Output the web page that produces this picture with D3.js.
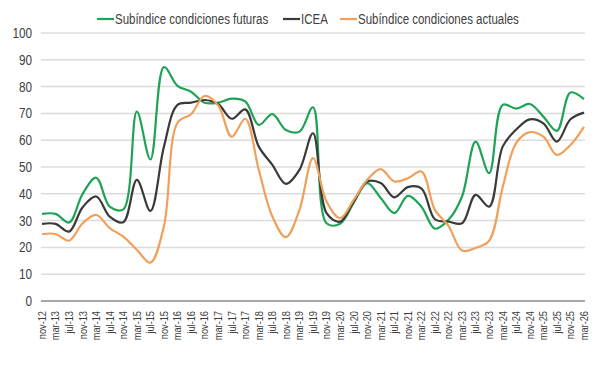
<!DOCTYPE html>
<html>
<head>
<meta charset="utf-8">
<script src="https://cdn.jsdelivr.net/npm/d3@7"></script>
<style>
	body { margin: 0; background: #fff; }
	text { font-family: "Liberation Sans", Arial, sans-serif; fill: #404040; }
</style>
</head>
<body>
<div id="chart"></div>
<script>
// categories (every 4 months)
var periods = [
	"nov-12", "mar-13", "jul-13", "nov-13", "mar-14", "jul-14", "nov-14",
	"mar-15", "jul-15", "nov-15", "mar-16", "jul-16", "nov-16",
	"mar-17", "jul-17", "nov-17", "mar-18", "jul-18", "nov-18",
	"mar-19", "jul-19", "nov-19", "mar-20", "jul-20", "nov-20",
	"mar-21", "jul-21", "nov-21", "mar-22", "jul-22", "nov-22",
	"mar-23", "jul-23", "nov-23", "mar-24", "jul-24", "nov-24",
	"mar-25", "jul-25", "nov-25", "mar-26"
];

var futuras = [
	32.5, 32.5, 29.3, 40, 46, 35.2, 34.2,
	70.7, 52.8, 87.3, 80.3, 78.1, 74,
	74, 75.5, 74.5, 65.7, 69.7, 63.8,
	63.2, 72.3, 29, 28.8, 36.6, 44,
	38.4, 32.8, 39.2, 35.2, 27, 30.3,
	39, 59.5, 47.7, 73.2, 71.8, 73.5,
	68.8, 63.5, 77.8, 75.3
];

var icea = [
	28.8, 28.8, 25.9, 35, 39, 31.5, 29.4,
	45.2, 33.6, 57.6, 73.2, 74, 75,
	73.5, 68, 71.5, 57.6, 50.8, 43.7,
	48.9, 62.6, 32.8, 29.6, 37.1, 44.6,
	44, 38.7, 42.5, 42, 30.5, 29.6,
	29, 39.6, 35.2, 57.6, 64, 67.8,
	66.3, 59.5, 67.8, 70.3
];

var actuales = [
	25, 25, 22.5, 29, 32.1, 27.2, 24,
	19.1, 14.3, 28, 66.5, 69.7, 76.5,
	73, 61.3, 68, 48.9, 31.5, 23.8,
	34, 53.3, 37.1, 30.9, 37.7, 45.2,
	49.2, 44.6, 45.8, 48.3, 34, 28,
	18.8, 19.8, 22.5, 42.5, 59, 63,
	61.3, 54.5, 58.2, 65
];

var yTicks = [0, 10, 20, 30, 40, 50, 60, 70, 80, 90, 100];

var series = [
	{name: "Subíndice condiciones futuras", values: futuras, color: "#1fa356"},
	{name: "ICEA", values: icea, color: "#3a3a3a"},
	{name: "Subíndice condiciones actuales", values: actuales, color: "#f0a05a"}
];

var width = 600, height = 373;

var svg = d3.select("#chart")
	.append("svg")
	.attr("width", width)
	.attr("height", height);

svg.append("rect")
	.attr("width", width)
	.attr("height", height)
	.attr("fill", "#fff");

var x = d3.scalePoint()
	.domain(periods)
	.range([42, 584]);

var y = d3.scaleLinear()
	.domain([0, 100])
	.range([301, 33]);

// squeeze text to look like a narrow font
function narrow(sel, k) {
	sel.each(function() {
		var w = this.getComputedTextLength();
		d3.select(this)
			.attr("textLength", w * k)
			.attr("lengthAdjust", "spacingAndGlyphs");
	});
}

// gridlines
svg.append("g")
	.selectAll("line")
	.data(yTicks.filter(function(d) { return d > 0; }))
	.join("line")
	.attr("x1", 41)
	.attr("x2", 585)
	.attr("y1", function(d) { return y(d); })
	.attr("y2", function(d) { return y(d); })
	.attr("stroke", "#dcdcdc")
	.attr("stroke-width", 1.5);

// y labels
svg.append("g")
	.selectAll("text")
	.data(yTicks)
	.join("text")
	.attr("x", 32)
	.attr("y", function(d) { return y(d); })
	.attr("dy", "0.36em")
	.attr("text-anchor", "end")
	.attr("font-size", 14)
	.text(function(d) { return d; })
	.call(narrow, 0.84);

// x axis baseline
svg.append("line")
	.attr("x1", 41)
	.attr("x2", 585)
	.attr("y1", y(0))
	.attr("y2", y(0))
	.attr("stroke", "#8a8a8a")
	.attr("stroke-width", 1.5);

// x labels, rotated
svg.append("g")
	.selectAll("text")
	.data(periods)
	.join("text")
	.attr("transform", function(d) { return "translate(" + x(d) + ",311) rotate(-90)"; })
	.attr("dy", "0.35em")
	.attr("text-anchor", "end")
	.attr("font-size", 11)
	.text(function(d) { return d; })
	.call(narrow, 0.84);

// lines
var line = d3.line()
	.x(function(d, i) { return x(periods[i]); })
	.y(function(d) { return y(d); })
	.curve(d3.curveCatmullRom.alpha(0.5));

svg.append("g")
	.selectAll("path")
	.data(series)
	.join("path")
	.attr("fill", "none")
	.attr("stroke", function(d) { return d.color; })
	.attr("stroke-width", 2.2)
	.attr("stroke-linejoin", "round")
	.attr("d", function(d) { return line(d.values); });

// legend
var legendX = [97, 283, 340];
var legend = svg.append("g")
	.selectAll("g")
	.data(series)
	.join("g")
	.attr("transform", function(d, i) { return "translate(" + legendX[i] + ",19)"; });

legend.append("line")
	.attr("x1", 0)
	.attr("x2", 17)
	.attr("stroke", function(d) { return d.color; })
	.attr("stroke-width", 2.2);

legend.append("text")
	.attr("x", 18)
	.attr("dy", "0.35em")
	.attr("font-size", 14)
	.text(function(d) { return d.name; })
	.call(narrow, 0.82);
</script>
</body>
</html>
